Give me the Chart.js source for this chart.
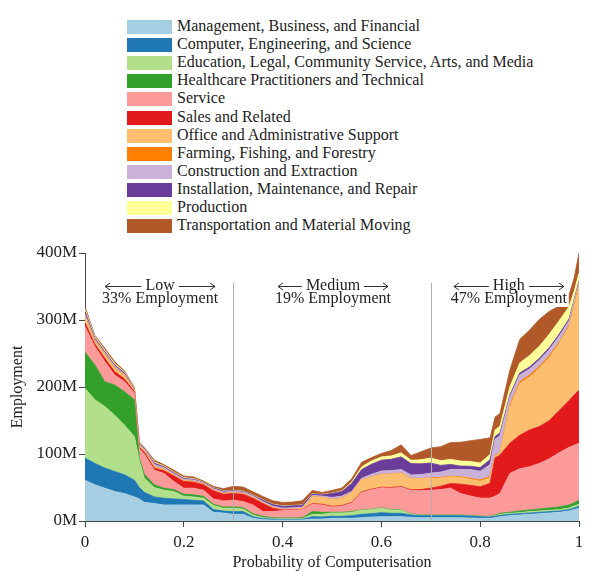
<!DOCTYPE html>
<html>
<head>
<meta charset="utf-8">
<script src="https://cdn.jsdelivr.net/npm/chart.js@4.4.1/dist/chart.umd.min.js"></script>
<style>
  body { margin: 0; background: #fff; }
  #wrap { position: relative; width: 596px; height: 572px; }
  #legend { position: absolute; left: 0; top: 0; width: 596px; height: 240px; font-family: 'Liberation Serif', serif; font-size: 16px; color: #222; }
  .row { position: absolute; left: 127px; height: 18px; white-space: nowrap; }
  .sw { position: absolute; left: 0; top: 2px; width: 45px; height: 14px; }
  .tx { position: absolute; left: 50px; top: -1px; line-height: 18px; }
  #myChart { position: absolute; left: 0; top: 240px; }
</style>
</head>
<body>
<div id="wrap">
  <div id="legend"></div>
  <canvas id="myChart" width="596" height="332"></canvas>
</div>
<script>
// probability of computerisation (x) and employment per series in millions
var xs = [0, 0.02, 0.04, 0.06, 0.08, 0.10, 0.11, 0.12, 0.14, 0.16, 0.18, 0.20, 0.22, 0.24, 0.26, 0.28,
  0.30, 0.32, 0.34, 0.36, 0.38, 0.40, 0.42, 0.44, 0.46, 0.48, 0.50, 0.52, 0.54, 0.56, 0.58, 0.60,
  0.62, 0.64, 0.66, 0.68, 0.70, 0.72, 0.74, 0.76, 0.78, 0.80, 0.82, 0.83, 0.84, 0.86, 0.88, 0.90,
  0.92, 0.94, 0.96, 0.98, 0.99, 1.00]

var management   = [61, 54, 49, 44, 41, 36, 33, 28, 26, 24, 24, 24, 24, 24, 13, 12, 10, 10, 4, 2, 1.5, 1.5, 1.5, 1.5, 3, 3, 4, 4, 4, 5, 6, 6.5, 6.5, 6.5, 5.5, 5, 5, 5, 5, 5, 4.5, 4, 4, 5, 6.5, 8, 9, 10, 11, 12, 13, 15, 17, 19]
var computer     = [33, 32, 30, 30, 28, 25, 17, 15, 10, 10, 9, 8, 7, 6, 4, 3, 4, 4, 2.5, 1.5, 1.5, 1, 1, 1, 3.5, 3, 3, 3, 4, 5, 5, 6, 5, 5, 3.5, 3, 3, 3, 3, 3, 3, 2.5, 2, 2, 2, 2, 2, 2, 2, 2, 2, 2, 2.5, 3]
var education    = [104, 95, 92, 84, 74, 65, 40, 21, 14, 12, 11, 5, 5, 4, 6, 4, 5, 4, 2.5, 1.5, 1, 1, 1, 1, 3.5, 4, 5, 5, 5, 6, 6, 6.5, 5, 4.5, 1, 0.5, 0.5, 0.5, 0.5, 0.5, 0.3, 0.2, 0.2, 1, 1.5, 1.5, 1.5, 2, 2, 2, 2, 2.5, 3, 3]
var healthcare   = [54, 52, 37, 45, 50, 55, 4, 6, 4, 3, 3, 3, 3, 3, 2, 2, 2, 2, 2, 2, 1, 1, 1, 1.5, 4, 3, 1, 1, 1, 0.5, 0.5, 0.5, 0.5, 0.5, 0.5, 0.5, 0.5, 0.5, 0.5, 0.5, 0.5, 0.5, 0.5, 1, 1.5, 1.5, 2.5, 2.5, 3, 3.5, 4, 4.5, 4.5, 6]
var service      = [38, 27, 30, 15, 15, 10, 14, 30, 22, 22, 12, 9, 10, 9, 8, 9, 10, 9, 13, 7, 9, 11, 12, 12, 11, 11, 8, 9, 13, 26, 29, 30, 32, 34, 35, 36, 37, 38, 40, 32, 29, 27, 27.5, 28, 29.5, 58, 63, 64.5, 68, 73.5, 81, 86, 86, 85]
var sales        = [6, 4, 5, 5, 4, 2, 2, 3, 3, 4, 8, 10, 9, 8, 12, 10, 10, 11, 10, 12, 5, 1, 0.5, 0.5, 1, 1, 1, 1, 1, 1, 1, 1, 1, 1, 1, 2, 3, 5, 7, 14, 16, 17, 22, 57, 57.5, 45, 50, 55, 55, 57, 63, 70, 75, 79]
var office       = [8, 4, 5, 5, 4, 2, 2, 2, 2, 2, 1, 1, 1, 1, 1, 1, 1, 1, 1, 1, 1, 0.5, 0.5, 1, 10, 10, 10, 11, 14, 18, 18, 19, 20, 20, 17, 16, 15, 12, 10, 10, 9, 8, 8, 3, 3, 54, 77, 79, 87, 94, 100, 110, 132, 155]
var farming      = [1, 1, 1, 1, 1, 0.5, 0.5, 0.5, 0.5, 0.5, 0.3, 0.3, 0.2, 0.2, 0.2, 0.2, 0.2, 0.2, 0.2, 0.2, 0.2, 0.2, 0.2, 0.2, 0.2, 0.2, 0.2, 0.2, 0.2, 0.2, 0.2, 0.2, 0.2, 0.2, 0.2, 0.3, 0.5, 1, 1, 1, 1.5, 2, 2, 1, 1, 3, 3, 3, 3, 3, 2, 2, 2, 1]
var construction = [4, 2, 2, 2, 2, 1, 2, 2, 3, 2, 2, 2, 2, 1.5, 2, 2, 2, 2, 2, 2, 2, 2, 2, 2, 2, 2, 3, 3, 2, 2, 4, 5, 5, 5, 5, 6, 7, 8, 10, 11, 13, 13, 18, 24, 25, 12, 10, 9, 9, 9, 9, 7, 6, 5]
var installation = [4, 2, 2, 2, 2, 1, 1.5, 1, 2, 1.5, 1.5, 1.5, 1, 1, 1, 1.5, 1, 1, 1, 2, 2.5, 3, 3, 3, 2, 2, 6, 7, 12, 13, 15, 16, 17, 19, 17, 16, 15, 10, 7.5, 5, 5, 5.5, 7.5, 4, 4, 3, 3, 3, 3, 3, 3, 3, 2, 2]
var production   = [3, 2, 2, 2, 1, 1, 1, 0.5, 1.5, 1, 1, 1, 1, 0.5, 0.5, 0.5, 0.5, 0.5, 0.5, 0.5, 0.5, 0.5, 0.5, 0.5, 0.5, 0.5, 0.5, 1, 2, 4, 5, 5, 5, 6, 5, 6, 7.5, 7, 7.5, 7.5, 7, 7, 7.5, 10, 10, 12, 15, 17, 18, 20, 20, 18, 12, 12]
var transport    = [4, 2, 3, 3, 2, 1, 1, 1, 3, 2, 3, 2.5, 2.5, 1.5, 2, 3, 6, 6, 5, 5, 5, 5, 5, 6, 5, 3, 4, 4, 5, 7, 5, 5, 8, 12, 7, 12, 15, 21, 25, 28, 31, 35, 25, 19, 19, 25, 35, 38, 40, 34, 22, 18, 20, 30]

var categories = ['Management, Business, and Financial', 'Computer, Engineering, and Science',
  'Education, Legal, Community Service, Arts, and Media', 'Healthcare Practitioners and Technical',
  'Service', 'Sales and Related', 'Office and Administrative Support', 'Farming, Fishing, and Forestry',
  'Construction and Extraction', 'Installation, Maintenance, and Repair', 'Production',
  'Transportation and Material Moving']
var series = [management, computer, education, healthcare, service, sales, office, farming,
  construction, installation, production, transport]
var colors = ['#a6cee3', '#1f78b4', '#b2df8a', '#33a02c', '#fb9a99', '#e31a1c', '#fdbf6f', '#ff7f00',
  '#cab2d6', '#6a3d9a', '#ffff99', '#b15928']

var yTicks = [0, 100, 200, 300, 400]
var xTicks = [0, 0.2, 0.4, 0.6, 0.8, 1]
var bandNames = ['Low', 'Medium', 'High']
var bandShares = ['33%', '19%', '47%']
var bandEdges = [0, 0.3, 0.7, 1]
var bandLabelAt = [0.152, 0.502, 0.858]

// legend (one column, above the plot)
var html = ''
categories.forEach(function(name, i) {
  html += '<div class="row" style="top:' + (18 + i * 18.1).toFixed(1) + 'px">' +
    '<div class="sw" style="background:' + colors[i] + '"></div>' +
    '<div class="tx">' + name + '</div></div>'
})
document.getElementById('legend').innerHTML = html

var serif = 'Liberation Serif'

var bandsPlugin = {
  id: 'bands',
  afterDatasetsDraw: function(chart) {
    var ctx = chart.ctx
    var x = chart.scales.x
    var top = chart.chartArea.top
    var bottom = chart.chartArea.bottom
    ctx.save()
    // divider lines between bands
    ctx.strokeStyle = '#b0b0b0'
    ctx.lineWidth = 1
    for (var k = 1; k < bandEdges.length - 1; k++) {
      var px = Math.round(x.getPixelForValue(bandEdges[k])) + 0.5
      ctx.beginPath()
      ctx.moveTo(px, top + 30)
      ctx.lineTo(px, bottom)
      ctx.stroke()
    }
    ctx.font = '16px ' + serif
    ctx.textAlign = 'center'
    ctx.textBaseline = 'middle'
    bandNames.forEach(function(name, i) {
      var cx = x.getPixelForValue(bandLabelAt[i])
      var share = bandShares[i] + ' Employment'
      var sw = ctx.measureText(share).width
      var nw = ctx.measureText(name).width
      var y1 = top + 33, y2 = top + 46
      ctx.fillStyle = '#fff'
      ctx.fillRect(cx - sw / 2 - 2, y1 - 7, sw + 4, 28)
      ctx.fillStyle = '#222'
      ctx.fillText(name, cx, y1)
      ctx.fillText(share, cx, y2)
      // arrows either side of the band name
      var l0 = cx - sw / 2 + 3, l1 = cx - nw / 2 - 4
      var r0 = cx + nw / 2 + 4, r1 = cx + sw / 2 - 3
      ctx.strokeStyle = '#333'
      ctx.lineWidth = 1
      ctx.beginPath()
      ctx.moveTo(l1, y1 + 0.5); ctx.lineTo(l0, y1 + 0.5)
      ctx.moveTo(l0 + 5, y1 - 3); ctx.lineTo(l0, y1 + 0.5); ctx.lineTo(l0 + 5, y1 + 4)
      ctx.moveTo(r0, y1 + 0.5); ctx.lineTo(r1, y1 + 0.5)
      ctx.moveTo(r1 - 5, y1 - 3); ctx.lineTo(r1, y1 + 0.5); ctx.lineTo(r1 - 5, y1 + 4)
      ctx.stroke()
    })
    ctx.restore()
  }
}

var datasets = series.map(function(values, i) {
  return {
    label: categories[i],
    data: xs.map(function(x, j) { return { x: x, y: values[j] } }),
    backgroundColor: colors[i],
    borderColor: colors[i],
    borderWidth: 0.8,
    pointRadius: 0,
    tension: 0,
    fill: i === 0 ? 'origin' : '-1'
  }
})

var ctx = document.getElementById('myChart').getContext('2d')
var chart = new Chart(ctx, {
  type: 'line',
  data: { datasets: datasets },
  options: {
    responsive: false,
    animation: false,
    layout: { padding: { left: 0, right: 17, top: 13, bottom: 0 } },
    plugins: { legend: { display: false }, tooltip: { enabled: false } },
    scales: {
      x: {
        type: 'linear', min: 0, max: 1,
        afterFit: function(scale) { scale.height = 51 },
        afterBuildTicks: function(scale) { scale.ticks = xTicks.map(function(v) { return { value: v } }) },
        grid: { drawOnChartArea: false, drawTicks: true, tickLength: 6, color: '#444' },
        border: { color: '#444', width: 1 },
        ticks: {
          color: '#222', padding: 5, maxRotation: 0,
          font: { family: serif, size: 17 },
          callback: function(v) { return (v === 0 || v === 1) ? String(v) : v.toFixed(1) }
        },
        title: { display: true, text: 'Probability of Computerisation', color: '#222',
          font: { family: serif, size: 16 }, padding: { top: 0, bottom: 0 } }
      },
      y: {
        stacked: true, min: 0, max: 400,
        afterFit: function(scale) { scale.width = 85 },
        afterBuildTicks: function(scale) { scale.ticks = yTicks.map(function(v) { return { value: v } }) },
        grid: { drawOnChartArea: false, drawTicks: true, tickLength: 6, color: '#444' },
        border: { color: '#444', width: 1 },
        ticks: {
          color: '#222', padding: 2,
          font: { family: serif, size: 17 },
          callback: function(v) { return v + 'M' }
        },
        title: { display: true, text: 'Employment', color: '#222',
          font: { family: serif, size: 16 }, padding: { top: 8, bottom: 0 } }
      }
    }
  },
  plugins: [bandsPlugin]
})
</script>
</body>
</html>
